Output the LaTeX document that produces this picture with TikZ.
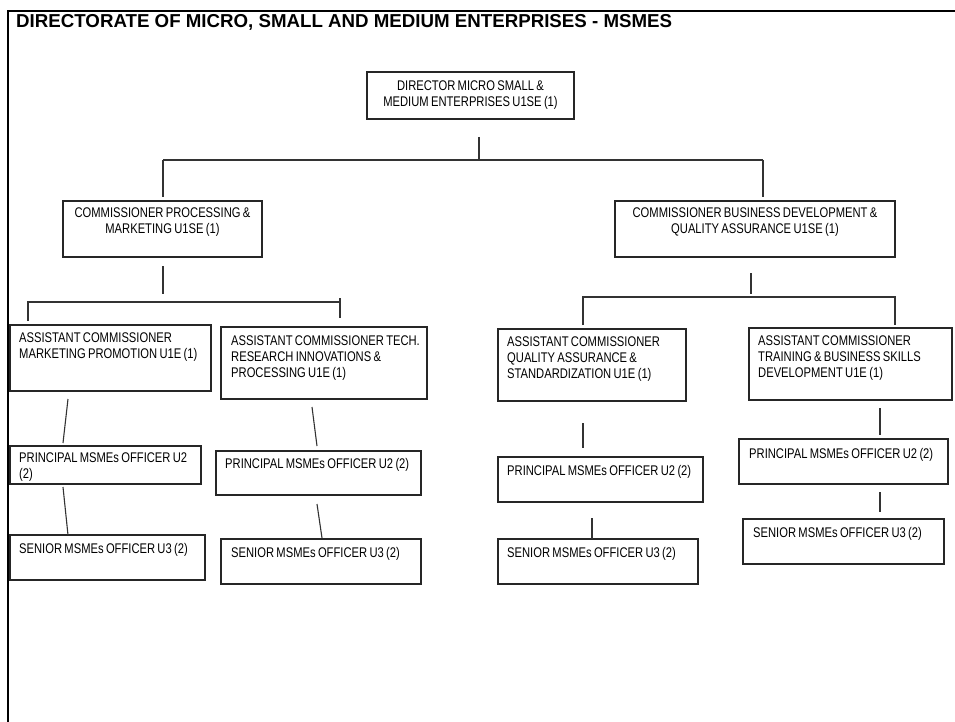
\documentclass[tikz,border=0pt]{standalone}
\usepackage{fontspec}
\setmainfont{Liberation Sans}
\newfontfamily\boxfont{Liberation Sans}[FakeStretch=0.80, WordSpace=0.75]
\usetikzlibrary{shadows}
\tikzset{
  box/.style={draw=black!85, line width=1.1pt, fill=white, inner sep=0pt, outer sep=0pt,
    drop shadow={shadow xshift=1pt, shadow yshift=-1pt, fill=black!35, opacity=1}},
  lbl/.style={inner sep=0pt, font=\boxfont\fontsize{14}{16}\selectfont, align=left, anchor=north west},
  clbl/.style={lbl, align=center, anchor=north},
  conn/.style={draw=black!80, line width=1.1pt},
  frameline/.style={line width=2.8pt, black},
}
\begin{document}
\begin{tikzpicture}[x=1pt,y=-1pt]
\useasboundingbox (0,0) rectangle (955,722);
\draw[frameline] (955,11) -- (8,11) -- (8,722);
\node[anchor=north west, inner sep=0pt, font=\bfseries\fontsize{18.7}{20}\selectfont] (title) at (16,14.5) {DIRECTORATE OF MICRO, SMALL AND MEDIUM ENTERPRISES - MSMES};

% boxes
\node[box, minimum width=207pt, minimum height=47pt] (dir) at (470.5,95.5) {};
\node[box, minimum width=199pt, minimum height=56pt] (cp) at (162.5,229) {};
\node[box, minimum width=280pt, minimum height=56pt] (bd) at (755,229) {};
\node[box, minimum width=201pt, minimum height=66pt] (acm) at (110.5,358) {};
\node[box, minimum width=206pt, minimum height=72pt] (act) at (324,363) {};
\node[box, minimum width=188pt, minimum height=72pt] (aqa) at (592,365) {};
\node[box, minimum width=203pt, minimum height=72pt] (atr) at (850.5,364) {};
\node[box, minimum width=191pt, minimum height=38pt] (p1) at (105.5,465) {};
\node[box, minimum width=205pt, minimum height=44pt] (p2) at (318.5,473) {};
\node[box, minimum width=205pt, minimum height=45pt] (p3) at (600.5,479.5) {};
\node[box, minimum width=209pt, minimum height=45pt] (p4) at (843.5,461.5) {};
\node[box, minimum width=195pt, minimum height=45pt] (s1) at (107.5,557.5) {};
\node[box, minimum width=200pt, minimum height=45pt] (s2) at (321,561.5) {};
\node[box, minimum width=200pt, minimum height=45pt] (s3) at (598,561.5) {};
\node[box, minimum width=201pt, minimum height=45pt] (s4) at (843.5,541.5) {};

% texts
\node[clbl] (dir-t) at (470.5,80.5) {DIRECTOR MICRO SMALL \&\\MEDIUM ENTERPRISES U1SE (1)};
\node[clbl] (cp-t) at (162.5,208) {COMMISSIONER PROCESSING \&\\MARKETING U1SE (1)};
\node[clbl] (bd-t) at (755,208) {COMMISSIONER BUSINESS DEVELOPMENT \&\\QUALITY ASSURANCE U1SE (1)};
\node[lbl] (acm-t) at (19,333) {ASSISTANT COMMISSIONER\\MARKETING PROMOTION U1E (1)};
\node[lbl] (act-t) at (231,336) {ASSISTANT COMMISSIONER TECH.\\RESEARCH INNOVATIONS \&\\PROCESSING U1E (1)};
\node[lbl] (aqa-t) at (507,337) {ASSISTANT COMMISSIONER\\QUALITY ASSURANCE \&\\STANDARDIZATION U1E (1)};
\node[lbl] (atr-t) at (758,336) {ASSISTANT COMMISSIONER\\TRAINING \& BUSINESS SKILLS\\DEVELOPMENT U1E (1)};
\node[lbl] (p1-t) at (19,453) {PRINCIPAL MSMEs OFFICER U2\\(2)};
\node[lbl] (p2-t) at (225,458) {PRINCIPAL MSMEs OFFICER U2 (2)};
\node[lbl] (p3-t) at (507,465) {PRINCIPAL MSMEs OFFICER U2 (2)};
\node[lbl] (p4-t) at (749,448) {PRINCIPAL MSMEs OFFICER U2 (2)};
\node[lbl] (s1-t) at (19,543) {SENIOR MSMEs OFFICER U3 (2)};
\node[lbl] (s2-t) at (231,547) {SENIOR MSMEs OFFICER U3 (2)};
\node[lbl] (s3-t) at (507,547) {SENIOR MSMEs OFFICER U3 (2)};
\node[lbl] (s4-t) at (753,527) {SENIOR MSMEs OFFICER U3 (2)};

% connector coordinates
\coordinate (d0) at (479,137);
\coordinate (d1) at (479,160);
\coordinate (hl) at (163,160);
\coordinate (hr) at (763,160);
\coordinate (cpt) at (163,197);
\coordinate (bdt) at (763,197);
\coordinate (cpb0) at (163,266);
\coordinate (cpb1) at (163,294);
\coordinate (lh0) at (28,302);
\coordinate (lh1) at (340,302);
\coordinate (lt0) at (28,321);
\coordinate (rt0) at (340,298);
\coordinate (rt1) at (340,318);
\coordinate (bdb0) at (751,273);
\coordinate (bdb1) at (751,294);
\coordinate (rh0) at (583,297);
\coordinate (rh1) at (895,297);
\coordinate (aqat) at (583,325);
\coordinate (atrt) at (895,325);
\coordinate (a1) at (68,399);
\coordinate (a2) at (63,443);
\coordinate (a3) at (63,487);
\coordinate (a4) at (68,535);
\coordinate (b1) at (312,407);
\coordinate (b2) at (317,446);
\coordinate (b3) at (317,504);
\coordinate (b4) at (322,538);
\coordinate (c1) at (583,423);
\coordinate (c2) at (583,448);
\coordinate (c3) at (592,518);
\coordinate (c4) at (592,539);
\coordinate (e1) at (880,408);
\coordinate (e2) at (880,435);
\coordinate (e3) at (880,492);
\coordinate (e4) at (880,512);

% connectors
\draw[conn] (d0) -- (d1);
\draw[conn] (hl) -- (hr);
\draw[conn] (hl) -- (cpt);
\draw[conn] (hr) -- (bdt);
\draw[conn] (cpb0) -- (cpb1);
\draw[conn] (lt0) -- (lh0) -- (lh1);
\draw[conn] (rt0) -- (rt1);
\draw[conn] (bdb0) -- (bdb1);
\draw[conn] (aqat) -- (rh0) -- (rh1) -- (atrt);
\draw[conn] (a1) -- (a2);
\draw[conn] (a3) -- (a4);
\draw[conn] (b1) -- (b2);
\draw[conn] (b3) -- (b4);
\draw[conn] (c1) -- (c2);
\draw[conn] (c3) -- (c4);
\draw[conn] (e1) -- (e2);
\draw[conn] (e3) -- (e4);
\end{tikzpicture}
\end{document}
